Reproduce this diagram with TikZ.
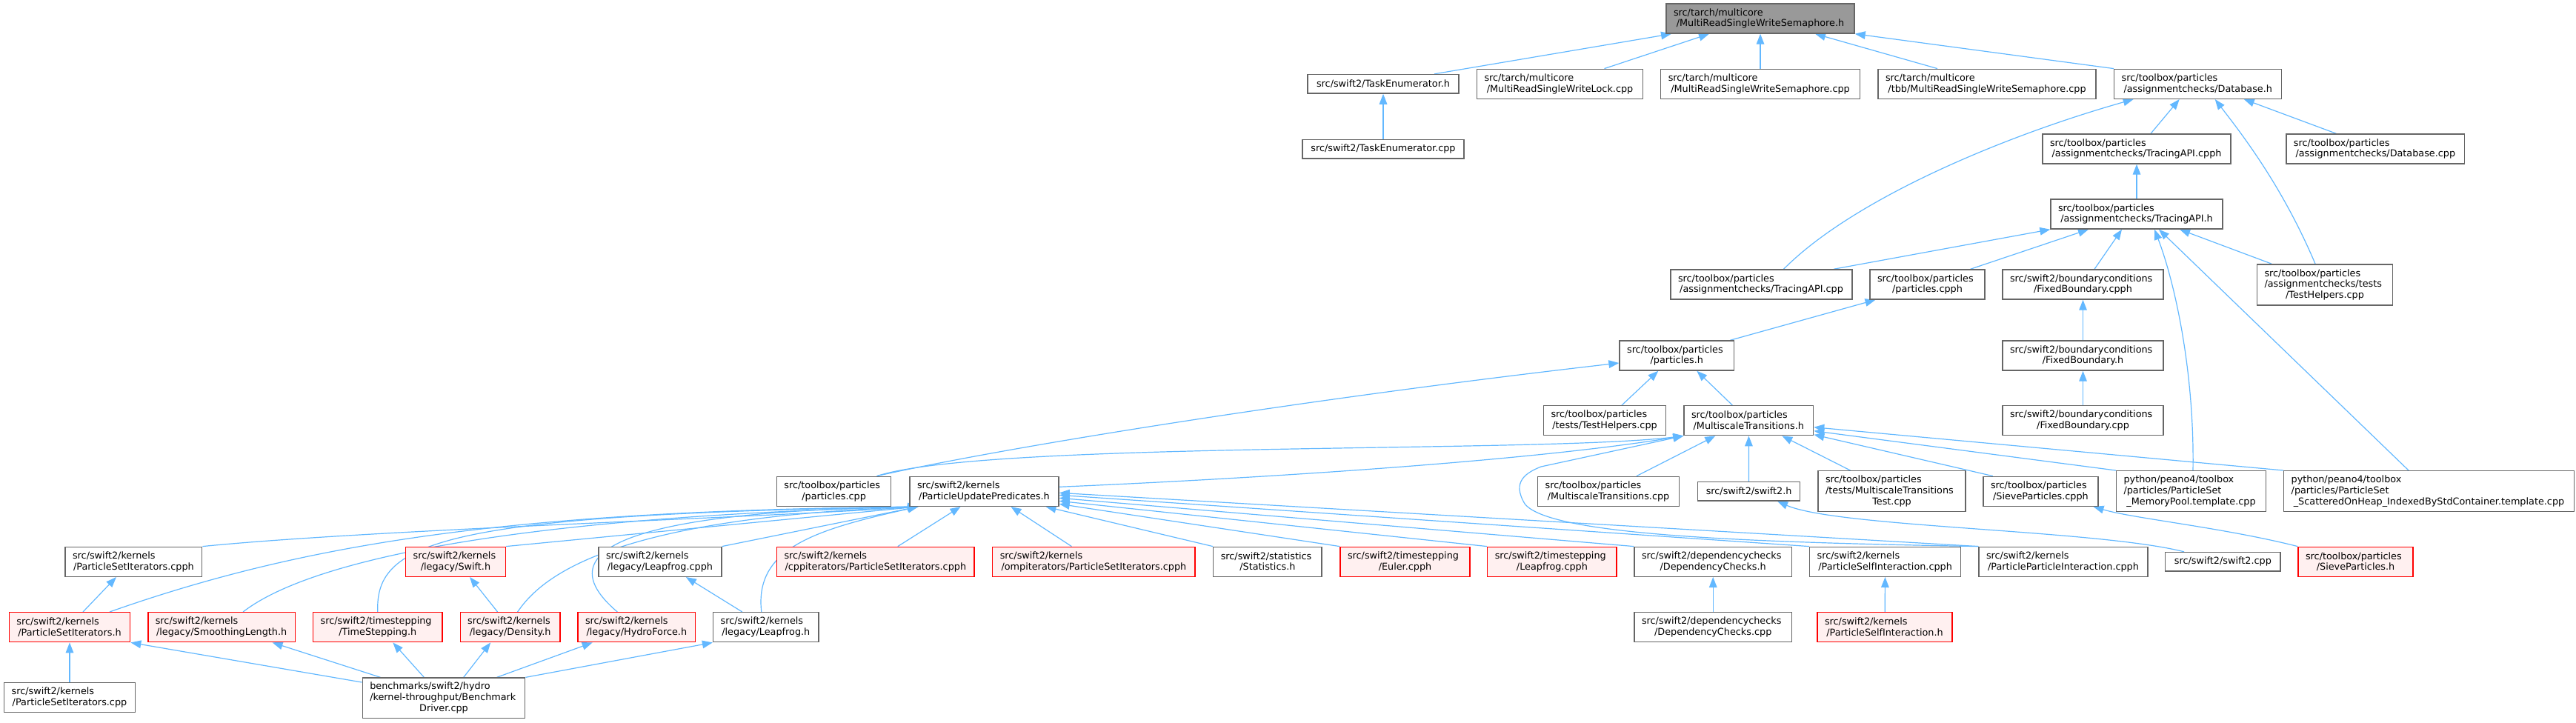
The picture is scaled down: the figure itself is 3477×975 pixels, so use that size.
\documentclass[tikz,border=0pt]{standalone}
\usepackage{fontspec}
\newfontfamily\graphfont{DejaVu Sans}
\usepackage{tikz}
\usetikzlibrary{arrows.meta,positioning,calc}

\definecolor{edgeblue}{HTML}{63B8FF}
\definecolor{boxgray}{HTML}{666666}
\definecolor{rootgray}{HTML}{999999}
\definecolor{hitfill}{HTML}{FFF0F0}
\newcommand{\lrow}[1]{\makebox[\linewidth][l]{#1}}
\pgfdeclarelayer{bg}
\pgfsetlayers{bg,main}

\tikzset{
  file/.style={draw=boxgray, fill=white, line width=0.7pt, inner sep=0pt, align=center,
    font=\graphfont\fontsize{6.4pt}{7.4pt}\selectfont},
  hit/.style={file, draw=red, fill=hitfill},
  root/.style={file, fill=rootgray},
  wh/.style 2 args={minimum width=#1*0.5pt, minimum height=#2*0.5pt, text width=#1*0.5pt-10pt},
  dep/.style={edgeblue, line width=0.6pt, -{Triangle[length=7pt,width=5.3pt]}},
}

\begin{document}
\begin{tikzpicture}[x=0.5pt,y=-0.5pt]
  \useasboundingbox (0,0) rectangle (3477,975);
  % files
  \node[root, wh={254}{40}] (sem) at (2376,25) {\lrow{src/tarch/multicore}\\/MultiReadSingleWriteSemaphore.h};
  \node[file, wh={204}{25.5}] (tenumh) at (1867,113.3) {src/swift2/TaskEnumerator.h};
  \node[file, wh={224}{40}] (lockcpp) at (2105.5,113.3) {\lrow{src/tarch/multicore}\\/MultiReadSingleWriteLock.cpp};
  \node[file, wh={268.5}{40}] (semcpp) at (2376,113.3) {\lrow{src/tarch/multicore}\\/MultiReadSingleWriteSemaphore.cpp};
  \node[file, wh={294}{40}] (tbbcpp) at (2682,113.3) {\lrow{src/tarch/multicore}\\/tbb/MultiReadSingleWriteSemaphore.cpp};
  \node[file, wh={226}{40}] (dbh) at (2966.7,113.3) {\lrow{src/toolbox/particles}\\/assignmentchecks/Database.h};
  \node[file, wh={218}{25.5}] (tenumcpp) at (1867,201.3) {src/swift2/TaskEnumerator.cpp};
  \node[file, wh={254}{40}] (tapicpph) at (2884,201) {\lrow{src/toolbox/particles}\\/assignmentchecks/TracingAPI.cpph};
  \node[file, wh={240.7}{40}] (dbcpp) at (3206.3,201) {\lrow{src/toolbox/particles}\\/assignmentchecks/Database.cpp};
  \node[file, wh={232}{40}] (tapih) at (2884,289) {\lrow{src/toolbox/particles}\\/assignmentchecks/TracingAPI.h};
  \node[file, wh={245}{40}] (tapicpp) at (2377.5,384) {\lrow{src/toolbox/particles}\\/assignmentchecks/TracingAPI.cpp};
  \node[file, wh={155}{40}] (pcpph) at (2601.5,384) {\lrow{src/toolbox/particles}\\/particles.cpph};
  \node[file, wh={217}{40}] (fbcpph) at (2811.5,384) {\lrow{src/swift2/boundaryconditions}\\/FixedBoundary.cpph};
  \node[file, wh={183}{55}] (achelp) at (3138,384.3) {\lrow{src/toolbox/particles}\\\lrow{/assignmentchecks/tests}\\/TestHelpers.cpp};
  \node[file, wh={154.5}{40}] (ph) at (2263.3,480) {\lrow{src/toolbox/particles}\\/particles.h};
  \node[file, wh={217}{40}] (fbh) at (2811.5,480) {\lrow{src/swift2/boundaryconditions}\\/FixedBoundary.h};
  \node[file, wh={165}{40}] (thelp) at (2166,567.7) {\lrow{src/toolbox/particles}\\/tests/TestHelpers.cpp};
  \node[file, wh={174.6}{40}] (mth) at (2360.3,567.7) {\lrow{src/toolbox/particles}\\/MultiscaleTransitions.h};
  \node[file, wh={217}{40}] (fbcpp) at (2811.5,567.7) {\lrow{src/swift2/boundaryconditions}\\/FixedBoundary.cpp};
  \node[file, wh={154.3}{40}] (pcpp) at (1125.6,663.3) {\lrow{src/toolbox/particles}\\/particles.cpp};
  \node[file, wh={201}{40}] (puph) at (1328.5,663.3) {\lrow{src/swift2/kernels}\\/ParticleUpdatePredicates.h};
  \node[file, wh={190.8}{40}] (mtcpp) at (2171,663.3) {\lrow{src/toolbox/particles}\\/MultiscaleTransitions.cpp};
  \node[file, wh={138}{25.5}] (swh) at (2360.6,663.3) {src/swift2/swift2.h};
  \node[file, wh={199}{55}] (mttest) at (2553.5,663.2) {\lrow{src/toolbox/particles}\\\lrow{/tests/MultiscaleTransitions}\\Test.cpp};
  \node[file, wh={154.8}{40}] (sievecpph) at (2754.4,663.3) {\lrow{src/toolbox/particles}\\/SieveParticles.cpph};
  \node[file, wh={202}{55}] (mempool) at (2957.5,663.2) {\lrow{python/peano4/toolbox}\\\lrow{/particles/ParticleSet}\\\_MemoryPool.template.cpp};
  \node[file, wh={391.7}{55}] (heap) at (3278.5,663.2) {\lrow{python/peano4/toolbox}\\\lrow{/particles/ParticleSet}\\\_ScatteredOnHeap\_IndexedByStdContainer.template.cpp};
  \node[file, wh={184.7}{40}] (psicpph) at (180.4,758.3) {\lrow{src/swift2/kernels}\\/ParticleSetIterators.cpph};
  \node[hit, wh={134.7}{40}] (swifth) at (615,758.3) {\lrow{src/swift2/kernels}\\/legacy/Swift.h};
  \node[file, wh={165.8}{40}] (lfcpph) at (890.9,758.3) {\lrow{src/swift2/kernels}\\/legacy/Leapfrog.cpph};
  \node[hit, wh={266.5}{40}] (cppit) at (1181.8,758.3) {\lrow{src/swift2/kernels}\\/cppiterators/ParticleSetIterators.cpph};
  \node[hit, wh={273.3}{40}] (ompit) at (1476.4,758.3) {\lrow{src/swift2/kernels}\\/ompiterators/ParticleSetIterators.cpph};
  \node[file, wh={146.3}{40}] (stath) at (1710.9,758.3) {\lrow{src/swift2/statistics}\\/Statistics.h};
  \node[hit, wh={175}{40}] (euler) at (1896.5,758.3) {\lrow{src/swift2/timestepping}\\/Euler.cpph};
  \node[hit, wh={174.3}{40}] (tslf) at (2094.9,758.3) {\lrow{src/swift2/timestepping}\\/Leapfrog.cpph};
  \node[file, wh={212.4}{40}] (dch) at (2312.2,758.3) {\lrow{src/swift2/dependencychecks}\\/DependencyChecks.h};
  \node[file, wh={204}{40}] (psicph) at (2544.6,758.3) {\lrow{src/swift2/kernels}\\/ParticleSelfInteraction.cpph};
  \node[file, wh={228}{40}] (ppicpph) at (2785,758.3) {\lrow{src/swift2/kernels}\\/ParticleParticleInteraction.cpph};
  \node[file, wh={155.3}{25.5}] (swcpp) at (3000.4,758.3) {src/swift2/swift2.cpp};
  \node[hit, wh={155}{40}] (sieveh) at (3179.5,758.3) {\lrow{src/toolbox/particles}\\/SieveParticles.h};
  \node[hit, wh={163.3}{40}] (psih) at (94,846.7) {\lrow{src/swift2/kernels}\\/ParticleSetIterators.h};
  \node[hit, wh={198.6}{40}] (smooth) at (299.1,846.7) {\lrow{src/swift2/kernels}\\/legacy/SmoothingLength.h};
  \node[hit, wh={174.4}{40}] (tsh) at (509.8,846.7) {\lrow{src/swift2/timestepping}\\/TimeStepping.h};
  \node[hit, wh={134.8}{40}] (densh) at (688.6,846.7) {\lrow{src/swift2/kernels}\\/legacy/Density.h};
  \node[hit, wh={158.5}{40}] (hydro) at (859.3,846.7) {\lrow{src/swift2/kernels}\\/legacy/HydroForce.h};
  \node[file, wh={142.4}{40}] (lfh) at (1033.8,846.7) {\lrow{src/swift2/kernels}\\/legacy/Leapfrog.h};
  \node[file, wh={212.4}{40}] (dccpp) at (2312.2,846.7) {\lrow{src/swift2/dependencychecks}\\/DependencyChecks.cpp};
  \node[hit, wh={182}{40}] (pselfh) at (2544,846.7) {\lrow{src/swift2/kernels}\\/ParticleSelfInteraction.h};
  \node[file, wh={176.8}{40}] (psicpp) at (94,941.7) {\lrow{src/swift2/kernels}\\/ParticleSetIterators.cpp};
  \node[file, wh={219.5}{54.3}] (bench) at (599,942.2) {\lrow{benchmarks/swift2/hydro}\\\lrow{/kernel-throughput/Benchmark}\\Driver.cpp};

  \begin{pgfonlayer}{bg}
  % includes of the semaphore header
  \draw[dep] ([xshift=34.5pt]tenumh.north) -- ([xshift=-60pt]sem.south);
  \draw[dep] ([xshift=30pt]lockcpp.north) -- ([xshift=-34.5pt]sem.south);
  \draw[dep] (semcpp) -- (sem);
  \draw[dep] ([xshift=-33.5pt]tbbcpp.north) -- ([xshift=37pt]sem.south);
  \draw[dep] (dbh.north west) -- (sem.south east);
  \draw[dep] (tenumcpp) -- (tenumh);
  % assignment checks
  \draw[dep] ([xshift=15pt]tapicpp.north) .. controls (2500,270) and (2700,185) .. ([xshift=-43.5pt]dbh.south);
  \draw[dep] ([xshift=9.5pt]tapicpph.north) -- ([xshift=-12.5pt]dbh.south);
  \draw[dep] ([xshift=-6.5pt]achelp.north) .. controls (3080,250) and (3025,180) .. ([xshift=11.5pt]dbh.south);
  \draw[dep] ([xshift=-26.5pt]dbcpp.north) -- ([xshift=31pt]dbh.south);
  \draw[dep] (tapih) -- (tapicpph);
  \draw[dep] ([xshift=48.75pt]tapicpp.north) -- (tapih.south west);
  \draw[dep] ([xshift=29pt]pcpph.north) -- ([xshift=-32.5pt]tapih.south);
  \draw[dep] ([xshift=7.75pt]fbcpph.north) -- ([xshift=-10pt]tapih.south);
  \draw[dep] ([xshift=1.25pt]mempool.north) .. controls (2962,500) and (2935,380) .. ([xshift=12pt]tapih.south);
  \draw[dep] ([xshift=-13.75pt]heap.north) -- ([xshift=15pt]tapih.south);
  \draw[dep] ([xshift=-36pt]achelp.north) -- ([xshift=29pt]tapih.south);
  \draw[dep] ([xshift=36pt]ph.north) -- ([xshift=-35pt]pcpph.south);
  \draw[dep] (fbh) -- (fbcpph);
  \draw[dep] (fbcpp) -- (fbh);
  % particles.h
  \draw[dep] ([xshift=29pt]pcpp.north) .. controls (1350,605) and (1750,540) .. ([yshift=-5pt]ph.west);
  \draw[dep] ([xshift=11.5pt]thelp.north) -- ([xshift=-12.5pt]ph.south);
  \draw[dep] ([xshift=-11pt]mth.north) -- ([xshift=13.5pt]ph.south);
  % MultiscaleTransitions.h
  \draw[dep] ([xshift=29pt]pcpp.north) .. controls (1330,595) and (2080,612) .. (mth.south west);
  \draw[dep] ([yshift=3pt]puph.east) .. controls (1650,648) and (2050,625) .. (mth.south west);
  \draw[dep] (ppicpph.north west) .. controls (2350,732) and (2090,722) .. (2058,680)
    .. controls (2040,650) and (2060,638) .. (2080,630) -- (mth.south west);
  \draw[dep] ([xshift=19pt]mtcpp.north) -- ([xshift=-22.5pt]mth.south);
  \draw[dep] (swh) -- (mth);
  \draw[dep] ([xshift=-28pt]mttest.north) -- ([xshift=22.5pt]mth.south);
  \draw[dep] ([xshift=-32.3pt]sievecpph.north) -- ([yshift=-9.5pt]mth.east);
  \draw[dep] (mempool.north west) -- ([yshift=-7pt]mth.east);
  \draw[dep] (heap.north west) -- ([yshift=-4.5pt]mth.east);
  % ParticleUpdatePredicates.h
  \draw[dep] (psicpph.north east) .. controls (500,715) and (1000,700) .. ([xshift=6pt]puph.south west);
  \draw[dep] ([xshift=27pt]psih.north) .. controls (420,730) and (700,690) .. ([xshift=6pt]puph.south west);
  \draw[dep] ([xshift=14.5pt]smooth.north) .. controls (400,770) and (620,700) .. ([xshift=6pt]puph.south west);
  \draw[dep] (tsh.north) .. controls (506,730) and (600,695) .. ([xshift=6pt]puph.south west);
  \draw[dep] (swifth.north east) -- ([xshift=6pt]puph.south west);
  \draw[dep] ([xshift=5pt]densh.north) .. controls (730,780) and (820,700) .. ([xshift=6pt]puph.south west);
  \draw[dep] ([xshift=-13pt]hydro.north) .. controls (720,730) and (900,690) .. ([xshift=6pt]puph.south west);
  \draw[dep] (lfcpph.north east) -- ([xshift=6pt]puph.south west);
  \draw[dep] ([xshift=-3pt]lfh.north) .. controls (1018,740) and (1100,715) .. ([xshift=6pt]puph.south west);
  \draw[dep] ([xshift=15pt]cppit.north) -- ([xshift=-16pt]puph.south);
  \draw[dep] ([xshift=-15pt]ompit.north) -- ([xshift=18pt]puph.south);
  \draw[dep] (stath.north west) -- ([xshift=41.5pt]puph.south);
  \draw[dep] (euler.north west) -- ([yshift=-8.5pt]puph.east);
  \draw[dep] (tslf.north west) -- ([yshift=-6.5pt]puph.east);
  \draw[dep] (dch.north west) -- ([yshift=-4.5pt]puph.east);
  \draw[dep] (psicph.north west) -- ([yshift=-2.5pt]puph.east);
  \draw[dep] (ppicpph.north west) -- ([yshift=-1pt]puph.east);
  % benchmark driver and the rest
  \draw[dep] ([yshift=-3.35pt]bench.north west) -- (psih.south east);
  \draw[dep] ([xshift=-42.75pt]bench.north) -- ([xshift=34.25pt]smooth.south);
  \draw[dep] ([xshift=-13.3pt]bench.north) -- ([xshift=10.25pt]tsh.south);
  \draw[dep] ([xshift=13.35pt]bench.north) -- ([xshift=-13.2pt]densh.south);
  \draw[dep] ([xshift=35.8pt]bench.north) -- ([xshift=-29.8pt]hydro.south);
  \draw[dep] (bench.north east) -- (lfh.south west);
  \draw[dep] (psicpp) -- (psih);
  \draw[dep] ([xshift=9pt]psih.north) -- ([xshift=-11.7pt]psicpph.south);
  \draw[dep] ([xshift=-8.5pt]densh.north) -- ([xshift=9.5pt]swifth.south);
  \draw[dep] ([xshift=-16pt]lfh.north) -- ([xshift=17.5pt]lfcpph.south);
  \draw[dep] (pselfh) -- (psicph);
  \draw[dep] (dccpp) -- (dch);
  \draw[dep] (sieveh.north west) .. controls (3000,712) and (2880,700) .. ([xshift=-3.5pt]sievecpph.south east);
  \draw[dep] ([xshift=-26.2pt]swcpp.north) .. controls (2830,715) and (2480,712) .. ([xshift=19.2pt]swh.south);
  \end{pgfonlayer}
\end{tikzpicture}
\end{document}
